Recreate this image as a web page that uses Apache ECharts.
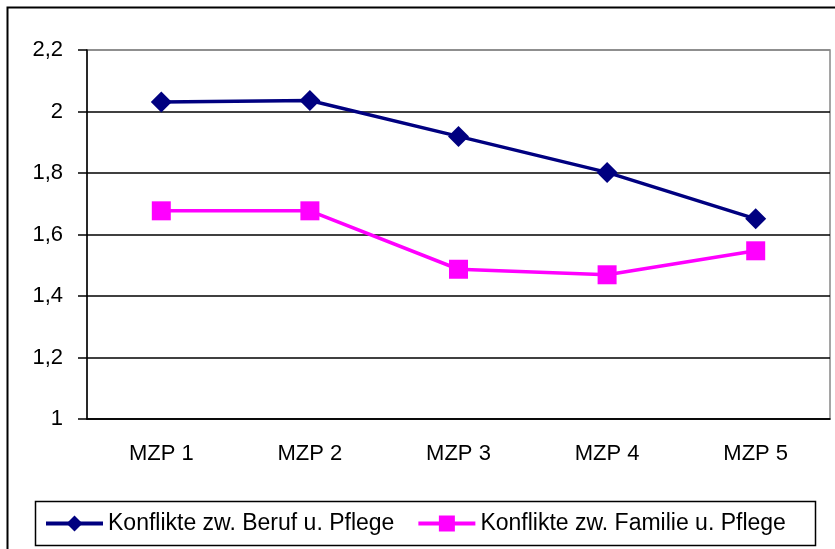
<!DOCTYPE html>
<html>
<head>
<meta charset="utf-8">
<script src="https://cdn.jsdelivr.net/npm/echarts@6/dist/echarts.min.js"></script>
<style>
  html, body { margin: 0; padding: 0; background: #fff; }
  #chart { width: 835px; height: 549px; }
</style>
</head>
<body>
<div id="chart"></div>
<script>
// data
const categories = ['MZP 1', 'MZP 2', 'MZP 3', 'MZP 4', 'MZP 5'];
const berufPflege = [2.031, 2.036, 1.919, 1.802, 1.651];
const familiePflege = [1.677, 1.677, 1.487, 1.469, 1.547];
const seriesNames = ['Konflikte zw. Beruf u. Pflege', 'Konflikte zw. Familie u. Pflege'];

const chartDom = document.getElementById('chart');
const myChart = echarts.init(chartDom, null, { renderer: 'canvas' });

const font = 'Liberation Sans, Arial, sans-serif';

const option = {
    backgroundColor: '#fff',
    animation: false,
    textStyle: { fontFamily: font, color: '#000' },
    grid: {
        left: 87, right: 5, top: 50, bottom: 130,
        show: true, borderColor: '#888', borderWidth: 1.5,
        containLabel: false
    },
    graphic: [
        // outer chart frame (cut off at right and bottom)
        { type: 'rect', z: 100, shape: { x: 7.5, y: 7.5, width: 900, height: 900 },
          style: { fill: null, stroke: '#000', lineWidth: 2 } },
        // legend box
        { type: 'rect', z: 100, shape: { x: 35.5, y: 501.5, width: 780, height: 44 },
          style: { fill: null, stroke: '#000', lineWidth: 1.5 } }
    ],
    legend: {
        left: 44, top: 512, padding: 0,
        itemWidth: 57, itemHeight: 20, itemGap: 22,
        lineStyle: { width: 4 },
        textStyle: { fontFamily: font, fontSize: 23, color: '#000' },
        data: seriesNames
    },
    xAxis: {
        type: 'category',
        data: categories,
        boundaryGap: true,
        axisLine: { lineStyle: { color: '#000', width: 1.5 } },
        axisTick: { length: 8, lineStyle: { color: '#000', width: 1.5 } },
        axisLabel: { margin: 24, fontSize: 22, color: '#000', fontFamily: font },
        splitLine: { show: false }
    },
    yAxis: {
        type: 'value',
        min: 1, max: 2.2, interval: 0.2,
        axisLine: { show: true, lineStyle: { color: '#000', width: 1.5 } },
        axisTick: { show: true, length: 9, lineStyle: { color: '#000', width: 1.5 } },
        axisLabel: {
            margin: 24, fontSize: 22, color: '#000', fontFamily: font,
            formatter: v => String(+v.toFixed(1)).replace('.', ',')
        },
        splitLine: {
            lineStyle: { color: ['#000', '#000', '#000', '#000', '#000', '#000', '#888'], width: 1.5 }
        }
    },
    series: [
        {
            name: seriesNames[0],
            type: 'line',
            data: berufPflege,
            symbol: 'diamond',
            symbolSize: 21,
            lineStyle: { color: '#000080', width: 3.5 },
            itemStyle: { color: '#000080' }
        },
        {
            name: seriesNames[1],
            type: 'line',
            data: familiePflege,
            symbol: 'rect',
            symbolSize: 19,
            lineStyle: { color: '#ff00ff', width: 3.5 },
            itemStyle: { color: '#ff00ff' }
        }
    ]
};

myChart.setOption(option);

window.addEventListener('resize', () => {
    myChart.resize();
});
</script>
</body>
</html>
